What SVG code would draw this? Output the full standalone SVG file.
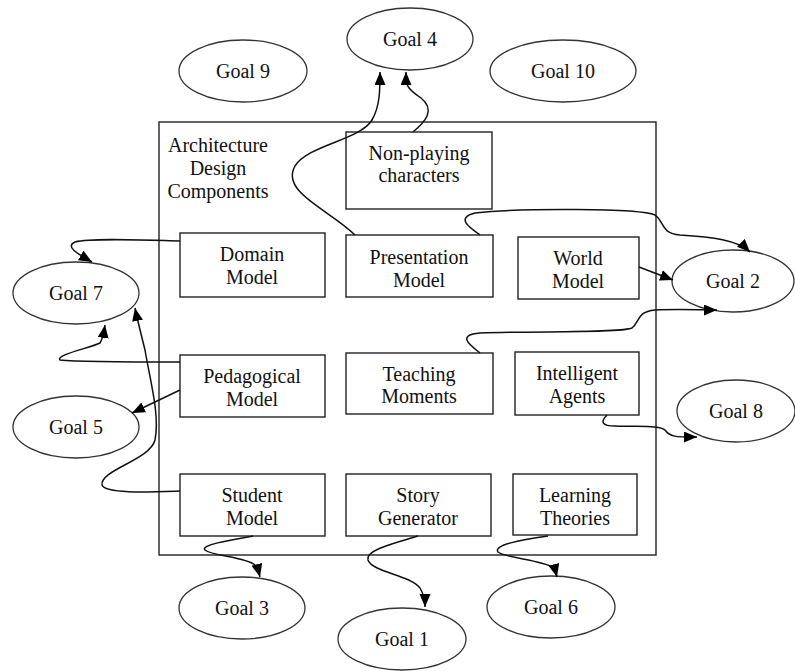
<svg xmlns="http://www.w3.org/2000/svg" width="795" height="671" viewBox="0 0 795 671">
  <defs>
    <marker id="arrow" markerUnits="userSpaceOnUse" markerWidth="14" markerHeight="12" refX="13" refY="5.5" orient="auto">
      <path d="M0,0 L13,5.5 L0,11 Z" fill="#000"/>
    </marker>
    <style>
      .box { fill: #fff; stroke: #222; stroke-width: 1.4; }
      .goal { fill: #fff; stroke: #333; stroke-width: 1.3; }
      .frame { fill: none; stroke: #222; stroke-width: 1.4; }
      .edge { fill: none; stroke: #111; stroke-width: 1.5; marker-end: url(#arrow); }
      text { font-family: "Liberation Serif", "Times New Roman", serif; font-size: 20px; fill: #111; text-anchor: middle; }
    </style>
  </defs>
  <rect width="795" height="671" fill="#fff"/>

  <!-- outer frame -->
  <g id="architecture">
    <rect class="frame" x="159" y="122" width="497" height="433"/>
    <text x="218" y="152">Architecture</text>
    <text x="218" y="175">Design</text>
    <text x="218" y="198">Components</text>
  </g>

  <!-- goals -->
  <g id="goal4"><ellipse class="goal" cx="410" cy="39" rx="63" ry="31"/><text x="410" y="46">Goal 4</text></g>
  <g id="goal9"><ellipse class="goal" cx="243" cy="71" rx="64" ry="31"/><text x="243" y="78">Goal 9</text></g>
  <g id="goal10"><ellipse class="goal" cx="563" cy="71" rx="73" ry="31"/><text x="563" y="78">Goal 10</text></g>
  <g id="goal7"><ellipse class="goal" cx="76" cy="293" rx="63" ry="31"/><text x="76" y="300">Goal 7</text></g>
  <g id="goal5"><ellipse class="goal" cx="76" cy="427" rx="63" ry="31"/><text x="76" y="434">Goal 5</text></g>
  <g id="goal2"><ellipse class="goal" cx="733" cy="281" rx="61" ry="31"/><text x="733" y="288">Goal 2</text></g>
  <g id="goal8"><ellipse class="goal" cx="736" cy="411" rx="59" ry="31"/><text x="736" y="418">Goal 8</text></g>
  <g id="goal3"><ellipse class="goal" cx="242" cy="608" rx="63" ry="31"/><text x="242" y="615">Goal 3</text></g>
  <g id="goal1"><ellipse class="goal" cx="402" cy="639" rx="64" ry="31"/><text x="402" y="646">Goal 1</text></g>
  <g id="goal6"><ellipse class="goal" cx="551" cy="607" rx="64" ry="31"/><text x="551" y="614">Goal 6</text></g>

  <!-- components -->
  <g id="npc"><rect class="box" x="346" y="132" width="146" height="77"/><text x="419" y="160">Non-playing</text><text x="419" y="182">characters</text></g>
  <g id="domain"><rect class="box" x="180" y="233" width="145" height="64"/><text x="252" y="261">Domain</text><text x="252" y="284">Model</text></g>
  <g id="presentation"><rect class="box" x="346" y="235" width="147" height="62"/><text x="419" y="264">Presentation</text><text x="419" y="287">Model</text></g>
  <g id="world"><rect class="box" x="518" y="237" width="121" height="62"/><text x="578" y="265">World</text><text x="578" y="288">Model</text></g>
  <g id="pedagogical"><rect class="box" x="180" y="355" width="145" height="62"/><text x="252" y="383">Pedagogical</text><text x="252" y="406">Model</text></g>
  <g id="teaching"><rect class="box" x="346" y="353" width="147" height="61"/><text x="419" y="381">Teaching</text><text x="419" y="403">Moments</text></g>
  <g id="agents"><rect class="box" x="515" y="352" width="124" height="63"/><text x="577" y="380">Intelligent</text><text x="577" y="403">Agents</text></g>
  <g id="student"><rect class="box" x="180" y="474" width="145" height="62"/><text x="252" y="502">Student</text><text x="252" y="525">Model</text></g>
  <g id="story"><rect class="box" x="346" y="474" width="145" height="62"/><text x="418" y="502">Story</text><text x="418" y="525">Generator</text></g>
  <g id="learning"><rect class="box" x="513" y="474" width="124" height="61"/><text x="575" y="502">Learning</text><text x="575" y="525">Theories</text></g>

  <!-- connectors -->
  <g id="connectors">
    <path class="edge" d="M355,235 C330,210 280,192 295,166 C308,145 360,140 372,120 C380,106 380,90 380,72"/>
    <path class="edge" d="M413,132 C425,122 436,110 421,98 C406,88 406,85 406,72"/>
    <path class="edge" d="M480,235 C470,228 455,218 475,213 C520,208 640,208 655,215 C665,222 660,233 680,235 C712,237 738,240 750,252"/>
    <path class="edge" d="M639,267 L673,280"/>
    <path class="edge" d="M480,353 C470,345 456,335 480,333 C540,331 620,333 632,328 C640,322 636,312 655,310 C680,309 700,310 717,310"/>
    <path class="edge" d="M607,415 C600,422 602,426 615,426 C640,427 660,425 665,430 C670,437 675,437 697,437"/>
    <path class="edge" d="M180,241 C140,240 90,238 75,242 C64,247 80,255 92,262"/>
    <path class="edge" d="M180,362 C140,362 80,362 60,360 C55,355 90,348 100,343 C103,338 104,332 105,325"/>
    <path class="edge" d="M180,491 C150,492 105,494 102,485 C100,470 150,460 155,440 C160,415 150,380 145,350 C140,330 137,318 135,308"/>
    <path class="edge" d="M180,390 L132,413"/>
    <path class="edge" d="M253,536 C230,540 200,545 205,550 C212,556 245,557 255,565 C258,569 259,573 260,577"/>
    <path class="edge" d="M418,536 C395,543 365,550 368,560 C372,572 410,575 420,588 C424,595 425,600 425,607"/>
    <path class="edge" d="M548,536 C520,540 493,545 498,552 C505,558 540,560 552,567 C555,570 556,573 557,577"/>
  </g>
</svg>
